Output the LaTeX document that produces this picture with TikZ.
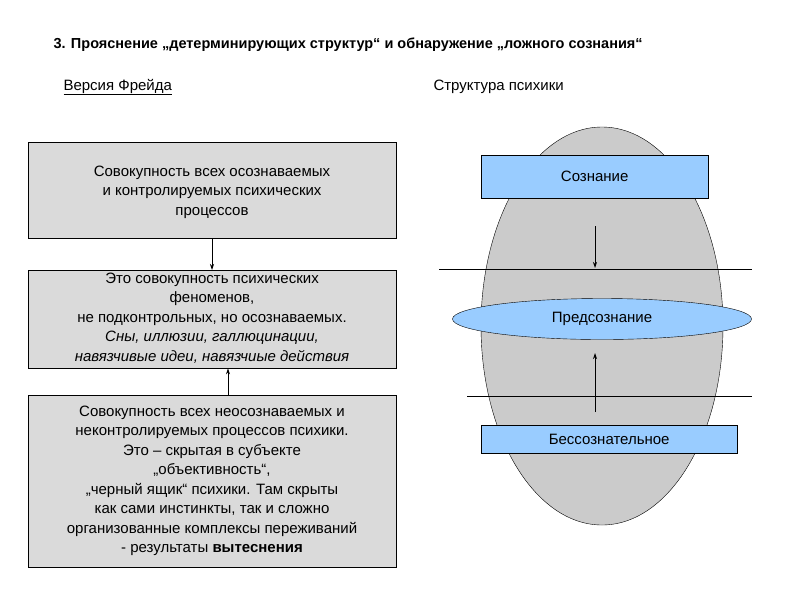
\documentclass[tikz,border=0pt]{standalone}
\usepackage{fontspec}
\setmainfont{Liberation Sans}
\usetikzlibrary{arrows.meta,shapes.geometric}
\definecolor{bl}{HTML}{99CCFF}
\definecolor{gr}{HTML}{DADADA}
\definecolor{eg}{HTML}{CBCBCB}
\begin{document}
\begin{tikzpicture}[x=1pt,y=-1pt,
  gbox/.style={draw,fill=gr,align=center,font=\fontsize{15}{19.5}\selectfont,inner sep=0pt,anchor=north west},
  bbox/.style={draw,fill=bl,font=\fontsize{15}{18}\selectfont,inner sep=0pt,anchor=north west},
  arr/.style={-{Stealth[length=6pt,width=4pt]},line width=0.8pt}]
\useasboundingbox (0,0) rectangle (794,595);
\node[anchor=west,font=\bfseries\fontsize{14.5}{17}\selectfont] (title) at (50,45) {3. Прояснение „детерминирующих структур“ и обнаружение „ложного сознания“};
\node[anchor=west,font=\fontsize{15}{18}\selectfont] (vf) at (60,87) {\underline{Версия Фрейда}};
\node[anchor=west,font=\fontsize{15}{18}\selectfont] (sp) at (430,87) {Структура психики};
\node[gbox,minimum width=368pt,minimum height=96pt] (b1) at (28,142) {};
\node[font=\fontsize{15}{19.5}\selectfont,align=center] (t1) at (212,192) {Совокупность всех осознаваемых\\и контролируемых психических\\процессов};
\node[gbox,minimum width=368pt,minimum height=98pt] (b2) at (28,270) {};
\node[font=\fontsize{15}{19.5}\selectfont,align=center,inner sep=0pt] (t2) at (212,318) {Это совокупность психических\\феноменов,\\не подконтрольных, но осознаваемых.\\\itshape Сны, иллюзии, галлюцинации,\\\itshape навязчивые идеи, навязчиые действия};
\node[gbox,minimum width=368pt,minimum height=172pt] (b3) at (28,395) {};
\node[font=\fontsize{15}{19.5}\selectfont,align=center,inner sep=0pt] (t3) at (212,481) {Совокупность всех неосознаваемых и\\неконтролируемых процессов психики.\\Это – скрытая в субъекте\\„объективность“,\\„черный ящик“ психики. Там скрыты\\как сами инстинкты, так и сложно\\организованные комплексы переживаний\\- результаты \textbf{вытеснения}};
\draw[arr] (b1.south-|212,0) -- (b2.north-|212,0);
\draw[arr] (b3.north-|228,0) -- (b2.south-|228,0);
\node[draw,ellipse,fill=eg,minimum width=242pt,minimum height=398pt,inner sep=0pt] (big) at (602,326) {};
\node[bbox,minimum width=227pt,minimum height=43pt] (soz) at (481,155) {};
\node[font=\fontsize{15}{18}\selectfont] at (soz.center) {Сознание};
\coordinate (l1a) at (439,269); \coordinate (l1b) at (752,269);
\coordinate (l2a) at (467,396); \coordinate (l2b) at (752,396);
\draw[line width=0.6pt] (l1a) -- (l1b);
\draw[line width=0.6pt] (l2a) -- (l2b);
\node[draw,ellipse,fill=bl,minimum width=299pt,minimum height=41pt,inner sep=0pt,font=\fontsize{15}{18}\selectfont] (pre) at (602,319) {Предсознание};
\node[bbox,minimum width=256pt,minimum height=28pt] (bes) at (481,425) {};
\node[font=\fontsize{15}{18}\selectfont] at (bes.center) {Бессознательное};
\coordinate (a1) at (595,226); \coordinate (a1e) at (595,268);
\coordinate (a2) at (595,412); \coordinate (a2e) at (595,353);
\draw[arr] (a1) -- (a1e);
\draw[arr] (a2) -- (a2e);
\end{tikzpicture}
\end{document}
